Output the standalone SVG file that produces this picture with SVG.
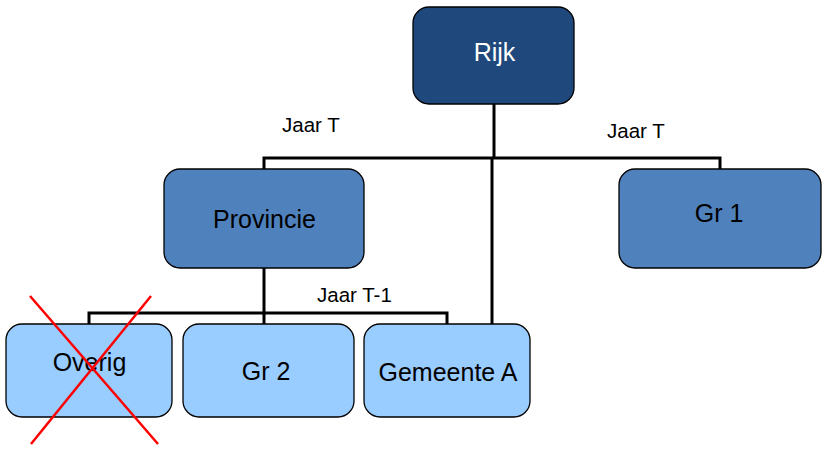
<svg xmlns="http://www.w3.org/2000/svg" width="828" height="453" viewBox="0 0 828 453">
<style>
.n{stroke:#000;stroke-width:1.3}
.d{fill:#1F497D}.m{fill:#4F81BD}.l{fill:#99CCFF}
.t{font-family:"Liberation Sans",Arial,sans-serif;font-size:25px;text-anchor:middle}
.w{fill:#fff}.k{fill:#000}
.lb{font-family:"Liberation Sans",Arial,sans-serif;font-size:20.5px;fill:#000}
.c{fill:none;stroke:#000;stroke-width:3}
.x{stroke:#f00;stroke-width:2.5}
</style>
<g id="connectors">
<polyline class="c" points="494,104 494,158"/>
<polyline class="c" points="264,169 264,158 720,158 720,169"/>
<polyline class="c" points="492,158 492,324"/>
<polyline class="c" points="264,268 264,324"/>
<polyline class="c" points="89,324 89,313 447,313 447,324"/>
</g>
<g id="rijk"><rect class="n d" x="413" y="7" width="161" height="97" rx="16"/><text class="t w" x="494.5" y="61">Rijk</text></g>
<g id="provincie"><rect class="n m" x="164" y="169" width="200" height="99" rx="16"/><text class="t k" x="264.5" y="228">Provincie</text></g>
<g id="gr1"><rect class="n m" x="619" y="169" width="202" height="99" rx="16"/><text class="t k" x="719" y="222">Gr 1</text></g>
<g id="overig"><rect class="n l" x="6" y="324" width="166" height="93" rx="16"/><text class="t k" x="89.5" y="371">Overig</text></g>
<g id="gr2"><rect class="n l" x="183" y="324" width="171" height="93" rx="16"/><text class="t k" x="266" y="380">Gr 2</text></g>
<g id="gemeente"><rect class="n l" x="364" y="324" width="166" height="93" rx="16"/><text class="t k" x="448" y="381">Gemeente A</text></g>
<text class="lb" x="282" y="132">Jaar T</text>
<text class="lb" x="607" y="138">Jaar T</text>
<text class="lb" x="317" y="302">Jaar T-1</text>
<g id="cross">
<line class="x" x1="30" y1="296" x2="158" y2="444"/>
<line class="x" x1="151" y1="296" x2="31" y2="444"/>
</g>
</svg>
